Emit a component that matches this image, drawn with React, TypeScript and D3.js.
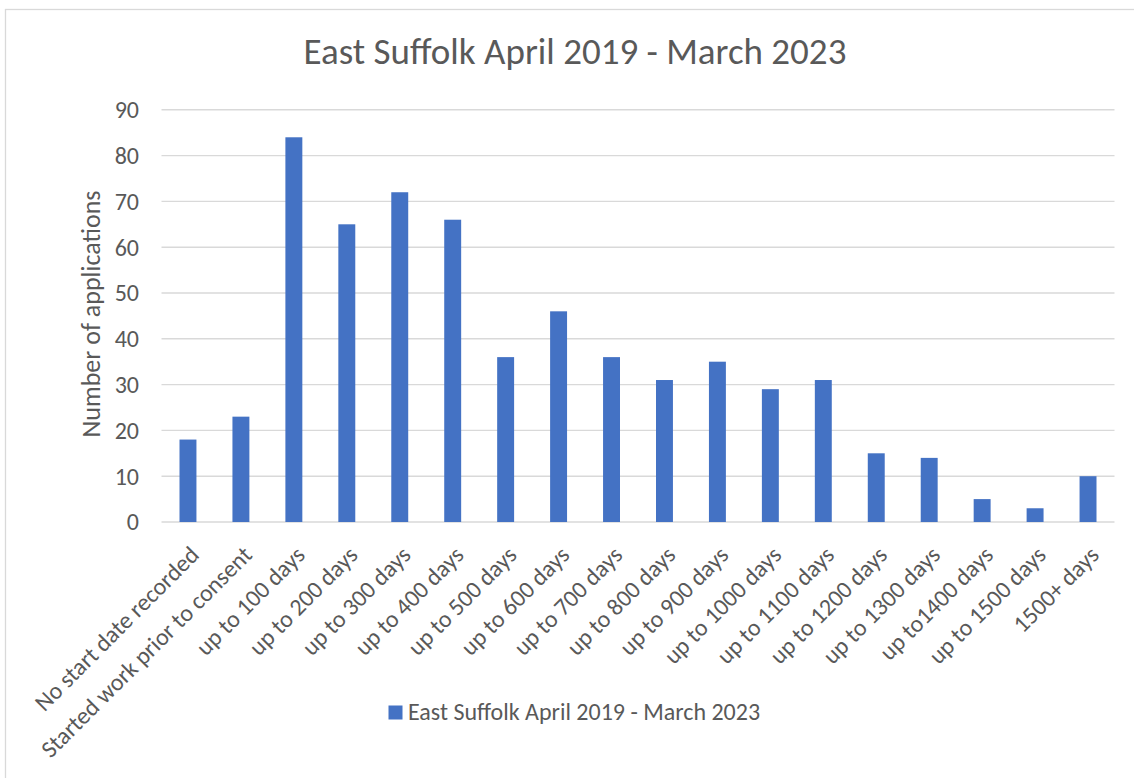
import React from "react";
import * as d3 from "d3";

const categories = [
  "No start date recorded",
  "Started work prior to consent",
  "up to 100 days",
  "up to 200 days",
  "up to 300 days",
  "up to 400 days",
  "up to 500 days",
  "up to 600 days",
  "up to 700 days",
  "up to 800 days",
  "up to 900 days",
  "up to 1000 days",
  "up to 1100 days",
  "up to 1200 days",
  "up to 1300 days",
  "up to1400 days",
  "up to 1500 days",
  "1500+ days",
];
const values = [18, 23, 84, 65, 72, 66, 36, 46, 36, 31, 35, 29, 31, 15, 14, 5, 3, 10];
const yTicks = [0, 10, 20, 30, 40, 50, 60, 70, 80, 90];
const seriesName = "East Suffolk April 2019 - March 2023";
const chartTitle = "East Suffolk April 2019 - March 2023";
const yTitle = "Number of applications";

const W = 1134;
const H = 778;
const FONT = "Carlito, Lato, 'Open Sans', sans-serif";
const TEXT = "#595959";
const BAR = "#4472C4";
const GRID = "#d9d9d9";

export default function App() {
  const x = d3.scaleBand<string>().domain(categories).range([161.5, 1114.5]).paddingInner(0.68).paddingOuter(0.34);
  const y = d3.scaleLinear().domain([0, 90]).range([522, 109.8]);
  const plotLeft = 161.5;
  const plotRight = 1114.5;

  return (
    <svg width={W} height={H} style={{ position: "absolute", left: 0, top: 0 }} fontFamily={FONT}>
      <rect x={0} y={0} width={W} height={H} fill="#fff" />
      <rect x={5.5} y={9.5} width={W + 20} height={H + 20} fill="none" stroke="#d9d9d9" strokeWidth={1.3} />
      <text x={575} y={64} textAnchor="middle" fontSize={37} fill={TEXT}>
        {chartTitle}
      </text>
      {yTicks.map((t) => (
        <g key={t}>
          <line x1={plotLeft} x2={plotRight} y1={y(t)} y2={y(t)} stroke={GRID} strokeWidth={1.4} />
          <text x={139} y={y(t)} dy="0.35em" textAnchor="end" fontSize={24} fill={TEXT}>
            {t}
          </text>
        </g>
      ))}
      {categories.map((c, i) => (
        <rect
          key={c}
          x={x(c)}
          y={y(values[i])}
          width={x.bandwidth()}
          height={y(0) - y(values[i])}
          fill={BAR}
        />
      ))}
      {categories.map((c) => {
        const cx = (x(c) as number) + x.bandwidth() / 2 + 6.5;
        const cy = 550.5;
        return (
          <text
            key={c}
            x={cx}
            y={cy}
            dy="0.35em"
            textAnchor="end"
            fontSize={24}
            fill={TEXT}
            transform={`rotate(-45 ${cx} ${cy})`}
          >
            {c}
          </text>
        );
      })}
      <text
        x={100}
        y={314}
        textAnchor="middle"
        fontSize={26}
        fill={TEXT}
        transform={`rotate(-90 100 314)`}
      >
        {yTitle}
      </text>
      <rect x={388.5} y={705.5} width={14} height={14} fill={BAR} />
      <text x={408} y={720} fontSize={24} fill={TEXT}>
        {seriesName}
      </text>
    </svg>
  );
}
